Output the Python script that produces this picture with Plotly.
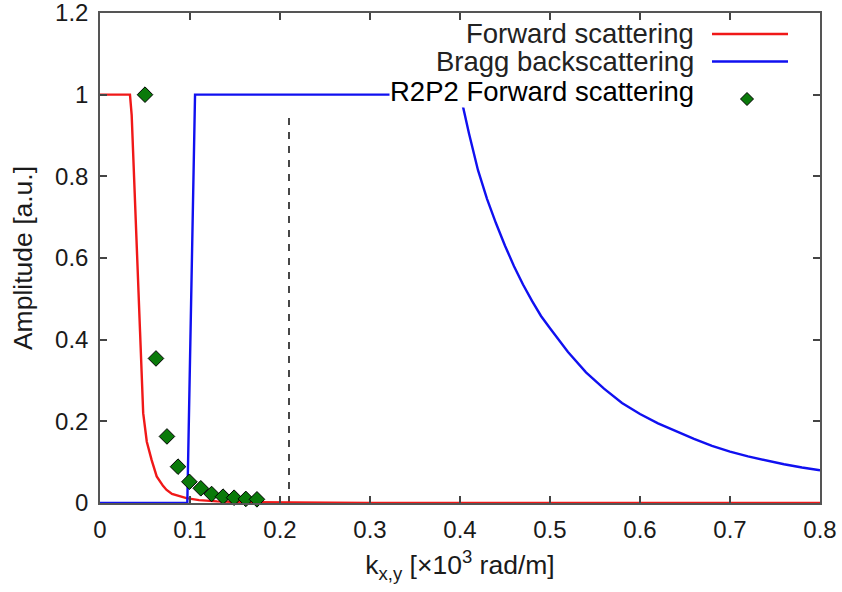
import plotly.graph_objects as go

# ---- data ----
fwd_k = [0, 0.0333, 0.0352, 0.0374, 0.0407, 0.0445, 0.048, 0.052, 0.0574, 0.063, 0.07, 0.074,
         0.08, 0.09, 0.096, 0.11, 0.13, 0.16, 0.2, 0.3, 0.5, 0.8]
fwd_a = [1, 1, 0.95, 0.833, 0.628, 0.42, 0.22, 0.15, 0.105, 0.065, 0.042, 0.032,
         0.022, 0.015, 0.012, 0.007, 0.004, 0.002, 0.001, 0, 0, 0]

bragg_k = [0, 0.097, 0.1056, 0.4, 0.4037, 0.41, 0.42, 0.43, 0.44, 0.45, 0.46, 0.47, 0.48,
           0.49, 0.5, 0.52, 0.54, 0.56, 0.58, 0.6, 0.62, 0.64, 0.66, 0.68, 0.7, 0.72,
           0.74, 0.76, 0.78, 0.8]
bragg_a = [0, 0, 1, 1, 0.967, 0.905, 0.815, 0.745, 0.685, 0.63, 0.58, 0.535, 0.495,
           0.458, 0.428, 0.37, 0.32, 0.28, 0.245, 0.218, 0.195, 0.175, 0.157, 0.14, 0.126,
           0.114, 0.104, 0.095, 0.087, 0.08]

r2p2_k = [0.05, 0.0622, 0.0744, 0.0867, 0.0993, 0.112, 0.124, 0.1367, 0.149, 0.162, 0.1744]
r2p2_a = [1.0, 0.354, 0.163, 0.089, 0.052, 0.036, 0.022, 0.0155, 0.013, 0.010, 0.009]

dash_k = [0.21, 0.21]
dash_a = [0, 0.955]

x_ticks = [0, 0.1, 0.2, 0.3, 0.4, 0.5, 0.6, 0.7, 0.8]
y_ticks = [0, 0.2, 0.4, 0.6, 0.8, 1.0, 1.2]

series_names = ["Forward scattering", "Bragg backscattering", "R2P2 Forward scattering"]

RED = "#f01818"
BLUE = "#1010f0"
GREEN = "#0a7a0a"
FONT = "Liberation Sans, Arial, sans-serif"

fig = go.Figure()

fig.add_trace(go.Scatter(x=dash_k, y=dash_a, mode="lines",
                         line=dict(color="#333333", width=1.8, dash="7px,7px"),
                         showlegend=False, hoverinfo="skip"))
fig.add_trace(go.Scatter(x=fwd_k, y=fwd_a, mode="lines", name=series_names[0],
                         line=dict(color=RED, width=2.4), showlegend=False))
fig.add_trace(go.Scatter(x=bragg_k, y=bragg_a, mode="lines", name=series_names[1],
                         line=dict(color=BLUE, width=2.4), showlegend=False))
fig.add_trace(go.Scatter(x=r2p2_k, y=r2p2_a, mode="markers", name=series_names[2],
                         marker=dict(symbol="diamond", size=12, color=GREEN,
                                     line=dict(color="black", width=1)),
                         showlegend=False, cliponaxis=False))

W, H = 842, 592
L, R, T, B = 100, 22, 13, 89
pw, ph = W - L - R, H - T - B


def px(xp):
    return (xp - L) / pw


def py(yp):
    return (H - B - yp) / ph


# manual legend (text on the left, swatch on the right); row 3 first so rows above draw on top
legend_rows = [
    dict(text=series_names[2], y=91.5, color="#000000", bg="white"),
    dict(text=series_names[0], y=34, color="#222222", bg=None),
    dict(text=series_names[1], y=62, color="#222222", bg=None),
]
for row in legend_rows:
    fig.add_annotation(x=px(695), y=py(row["y"]), xref="paper", yref="paper",
                       text=row["text"], showarrow=False, xanchor="right", yanchor="middle",
                       font=dict(family=FONT, size=27.5, color=row["color"]),
                       bgcolor=row["bg"] if row["bg"] else "rgba(0,0,0,0)", borderpad=0)

fig.add_shape(type="line", xref="paper", yref="paper", x0=px(712), x1=px(788),
              y0=py(34), y1=py(34), line=dict(color=RED, width=2.4))
fig.add_shape(type="line", xref="paper", yref="paper", x0=px(712), x1=px(788),
              y0=py(61.5), y1=py(61.5), line=dict(color=BLUE, width=2.4))
cx, cy, r = 747, 99, 6.5
fig.add_shape(type="path", xref="paper", yref="paper",
              path=f"M {px(cx - r)},{py(cy)} L {px(cx)},{py(cy - r)} L {px(cx + r)},{py(cy)} L {px(cx)},{py(cy + r)} Z",
              fillcolor=GREEN, line=dict(color="black", width=1))

axis_common = dict(showgrid=False, zeroline=False, showline=True, linecolor="#555555",
                   linewidth=1.5, mirror="allticks", ticks="inside", ticklen=7,
                   tickwidth=1.5, tickcolor="#444444", ticklabeloverflow="allow",
                   tickfont=dict(family=FONT, size=24, color="#1a1a1a"))

fig.update_xaxes(range=[0, 0.8], tickvals=x_ticks, ticktext=[f"{v:g}" for v in x_ticks],
                 title=dict(text="k<sub>x,y</sub> [×10<sup>3</sup> rad/m]",
                            font=dict(family=FONT, size=26.5, color="#1a1a1a"), standoff=14),
                 ticklabelstandoff=4, **axis_common)
fig.update_yaxes(range=[0, 1.2], tickvals=y_ticks, ticktext=[f"{v:g}" for v in y_ticks],
                 title=dict(text="Amplitude [a.u.]",
                            font=dict(family=FONT, size=26.5, color="#1a1a1a"), standoff=15),
                 ticklabelstandoff=5, **axis_common)

fig.update_layout(width=W, height=H, margin=dict(l=L, r=R, t=T, b=B, autoexpand=False),
                  plot_bgcolor="white", paper_bgcolor="white", showlegend=False)

fig.write_html("out.html", config={"displayModeBar": False},
               post_script="document.body.style.margin='0';")
